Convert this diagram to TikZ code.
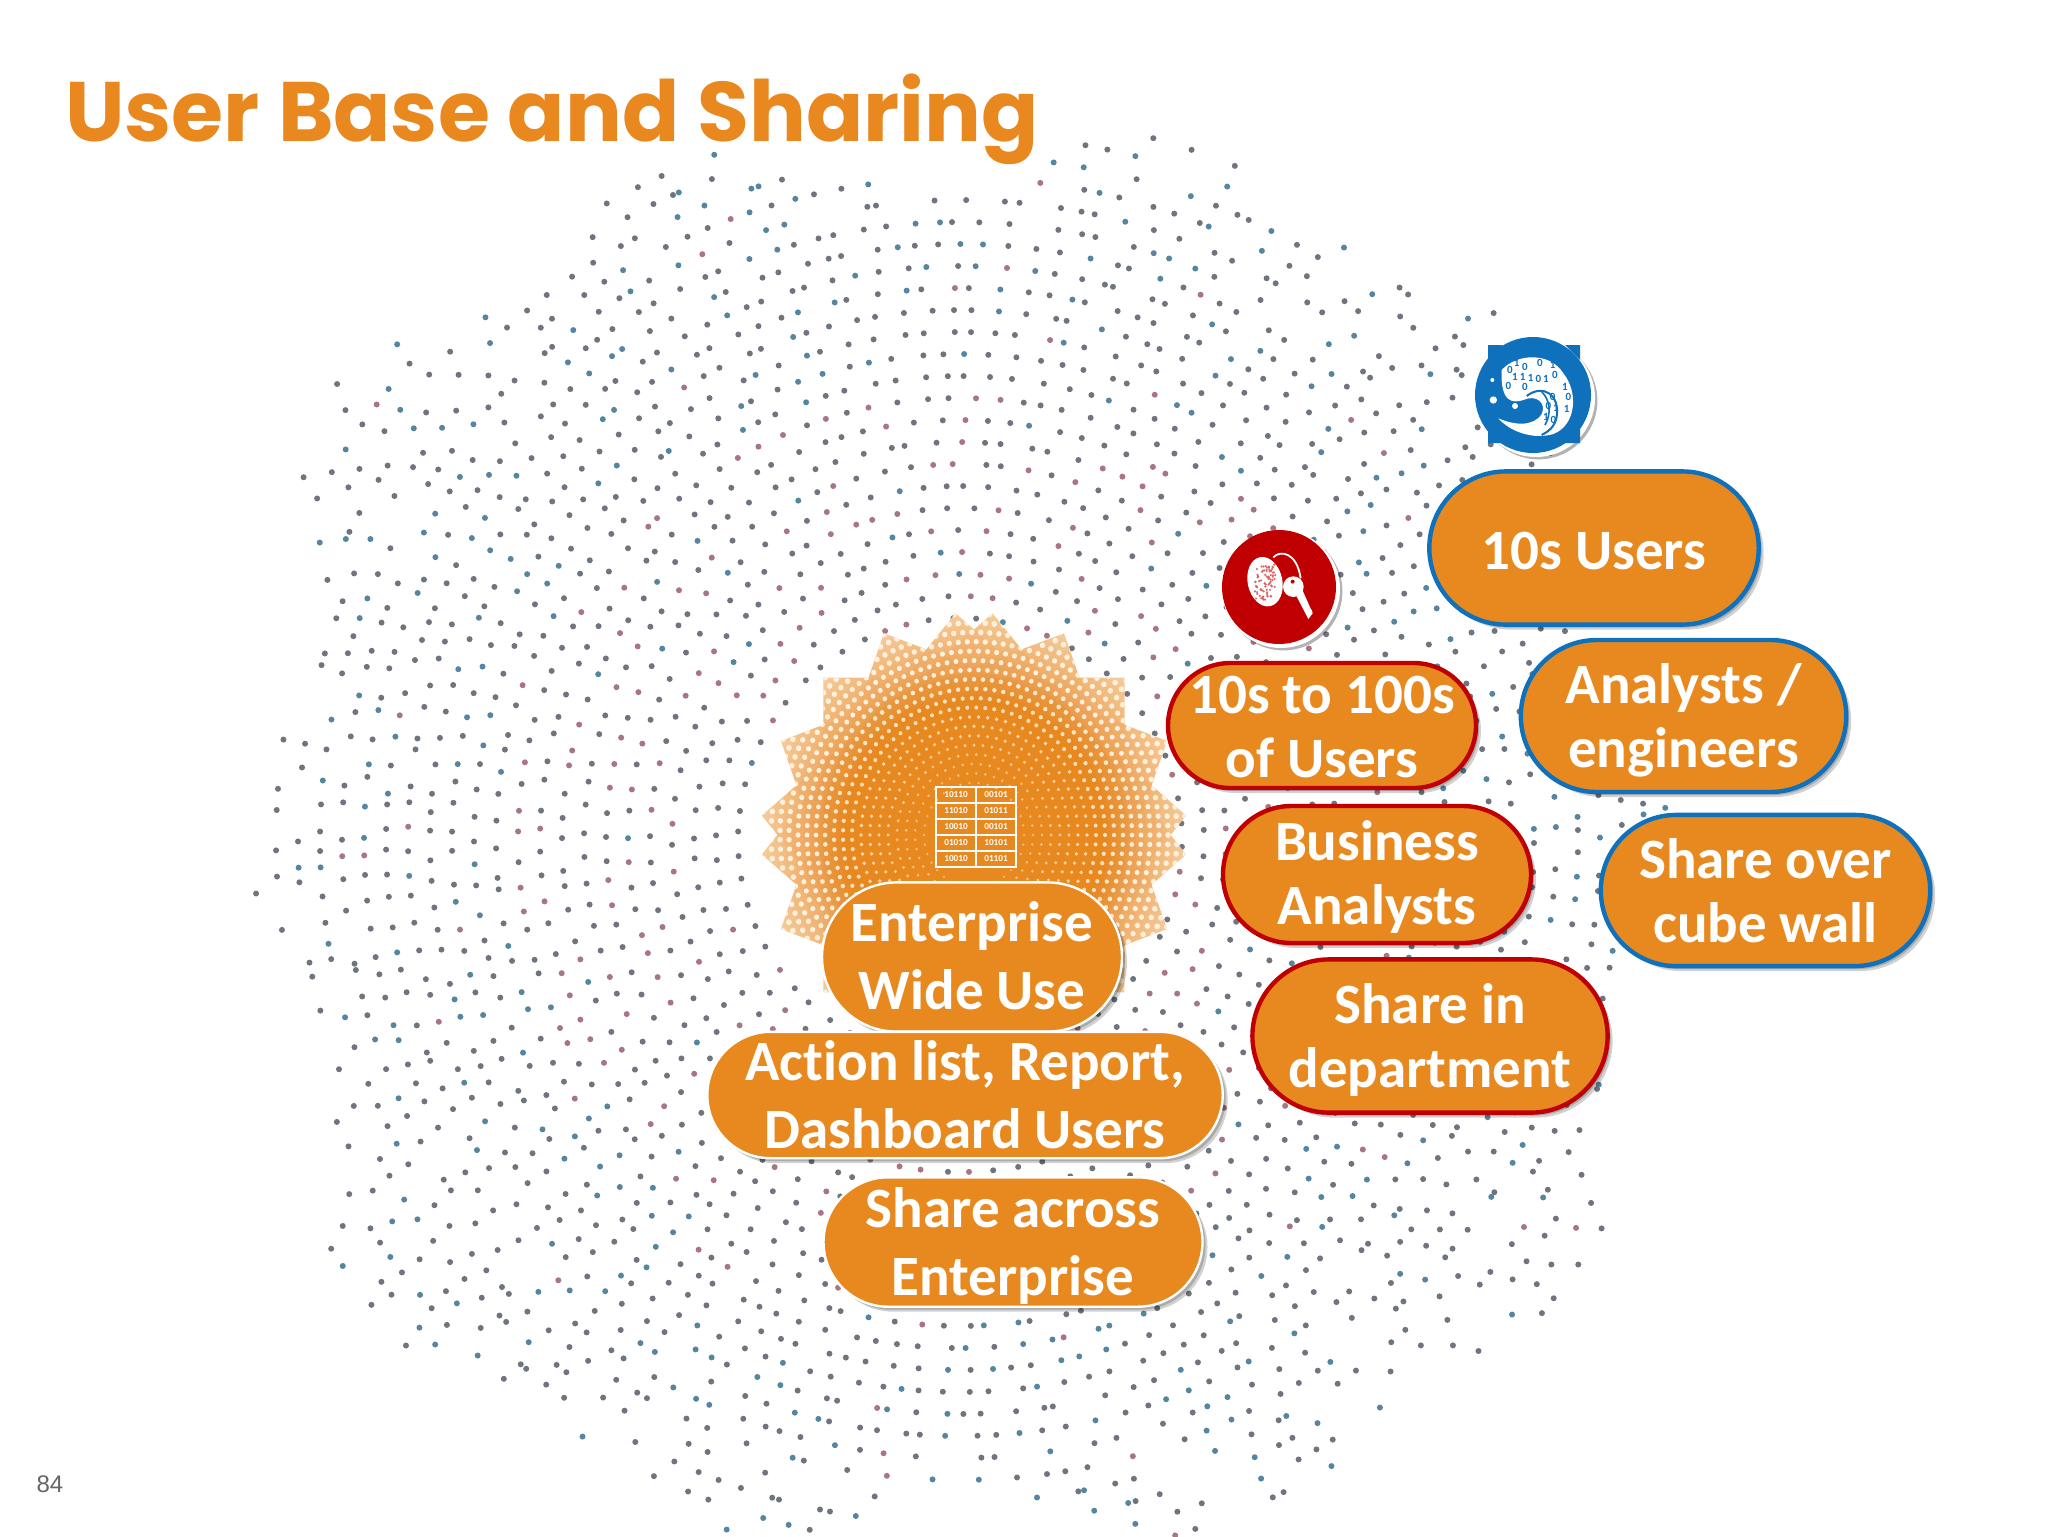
\documentclass[tikz,border=0pt]{standalone}
\usepackage{fontspec}
\setmainfont[Ligatures=NoCommon]{Carlito}
\newfontfamily\numfont{Liberation Sans}
\newfontfamily\headfont{Poppins}
\usetikzlibrary{shadows,shapes.geometric}
\definecolor{orangefill}{HTML}{E8891F}
\definecolor{titleorange}{HTML}{E8881E}
\definecolor{pillblue}{HTML}{0F70BC}
\definecolor{pillred}{HTML}{C00000}
\definecolor{dotgray}{HTML}{6E757E}
\definecolor{dotred}{HTML}{A87682}
\definecolor{dotblue}{HTML}{55859F}
\definecolor{sunlight}{HTML}{F6D2A8}
\definecolor{sunmid}{HTML}{EFA862}
\definecolor{sunedge}{HTML}{F2BC82}
\definecolor{suncream}{HTML}{FFF0DC}
\pgfdeclareradialshading{sunshade}{\pgfpointorigin}{color(0bp)=(orangefill);color(15bp)=(orangefill);color(18.5bp)=(sunmid);color(21.5bp)=(sunedge);color(25bp)=(sunlight);color(50bp)=(sunlight)}
\tikzset{
  pill/.style n args={2}{minimum width=#1pt,minimum height=#2pt,rounded corners={#2*0.5pt}},
  pillbase/.style={rectangle,fill=orangefill,text=white,inner sep=0pt,align=center,
    font=\fontsize{28.5}{32}\selectfont\bfseries,
    drop shadow={shadow xshift=1.5pt,shadow yshift=-1.5pt,opacity=.18,fill=black},
    drop shadow={shadow xshift=2.5pt,shadow yshift=-2.5pt,opacity=.18,fill=black}},
  bluepill/.style={pillbase,draw=pillblue,line width=2.2pt},
  redpill/.style={pillbase,draw=pillred,line width=2.2pt},
  whitepill/.style={pillbase,draw=white,line width=1.2pt},
  pilltext/.style={inner sep=0pt,text=white,align=center,font=\fontsize{28.5}{32}\selectfont\bfseries},
  widetext/.style={pilltext,font=\fontsize{28.5}{34}\selectfont\bfseries},
  icondisc/.style={circle,inner sep=0pt,fill=white,minimum size=59pt,
    drop shadow={shadow xshift=1.2pt,shadow yshift=-1.2pt,opacity=.3,fill=black}},
  bits/.style={inner sep=0pt,text=white,font=\fontsize{4.6}{5}\selectfont\bfseries},
  wavebit/.style={inner sep=0pt,text=pillblue,font=\fontsize{5.5}{5.5}\selectfont\bfseries},
  title/.style={inner sep=0pt,anchor=base west,text=titleorange},
}
\begin{document}
\begin{tikzpicture}[x=0.5pt,y=-0.5pt]
\useasboundingbox (0,0) rectangle (2048,1536);
\fill[white] (0,0) rectangle (2048,1536);
% ---- dot cloud ----
\pgfmathsetseed{4217}
\foreach \rr in {222,244,...,800}{
  \pgfmathtruncatemacro{\nn}{6.283*\rr/24}
  \pgfmathsetmacro{\off}{rnd*30}
  \pgfmathsetmacro{\keep}{\rr<530?1.05:1.05-(\rr-530)*0.0024}
  \pgfmathtruncatemacro{\isinner}{\rr<460?1:0}
  \foreach \kk in {1,...,\nn}{
    \pgfmathsetmacro{\tha}{\off+\kk/\nn*360+(rnd-.5)*1.8}
    \pgfmathsetmacro{\lmt}{650+75*abs(sin(2*\tha))+35*cos(10*\tha+20)+rnd*25}
    \pgfmathtruncatemacro{\vis}{(\rr<\lmt)&&(rnd<\keep)?1:0}
    \ifnum\vis=1
      \pgfmathsetmacro{\pick}{rnd}
      \ifnum\isinner=1
        \pgfmathtruncatemacro{\ci}{\pick<0.25?1:(\pick<0.3?2:0)}
      \else
        \pgfmathtruncatemacro{\ci}{\pick<0.24?2:(\pick<0.27?1:0)}
      \fi
      \ifcase\ci\def\cl{dotgray}\or\def\cl{dotred}\or\def\cl{dotblue}\fi
      \fill[\cl] ({960+\rr*cos(\tha)},{840+\rr*sin(\tha)}) circle[radius=3];
    \fi
  }
}
% ---- sun ----
\begin{scope}[shift={(974,835)},yscale=1.045]
  \begin{scope}
    \clip (45:213)--(135:213)--(225:213)--(315:213)--cycle
      (65:213)--(155:213)--(245:213)--(335:213)--cycle
      (25:213)--(115:213)--(205:213)--(295:213)--cycle
      (85:213)--(175:213)--(265:213)--(355:213)--cycle
      (5:213)--(95:213)--(185:213)--(275:213)--cycle;
    \shade[shading=sunshade] (0,0) circle[radius=214];
    \foreach \a in {0,20,-20,40,-40}{
      \fill[orangefill,opacity=.07] (45+\a:213)--(135+\a:213)--(225+\a:213)--(315+\a:213)--cycle;
    }
    \foreach \rr in {50,59,...,232}{
      \pgfmathtruncatemacro{\nn}{6.283*\rr/9}
      \pgfmathsetmacro{\dr}{0.7+\rr*0.0105}
      \pgfmathtruncatemacro{\tn}{min(100,30+\rr*0.42)}
      \foreach \kk in {1,...,\nn}{
        \fill[suncream!\tn!orangefill] ({\kk/\nn*360}:\rr) circle[radius=\dr];
      }
    }
  \end{scope}
\end{scope}
% ---- table icon ----
\draw[white,line width=1pt] (936,787) rectangle (1016,867);
\foreach \yy in {803,819,835,851}{\draw[white,line width=.9pt] (936,\yy)--(1016,\yy);}
\draw[white,line width=.9pt] (976,787)--(976,867);
\foreach \yy/\ta/\tb [count=\ii] in {795/10110/00101,811/11010/01011,827/10010/00101,843/01010/10101,859/10010/01101}{
  \node[bits] (tl\ii) at (956,\yy) {\ta};
  \node[bits] (tr\ii) at (996,\yy) {\tb};
}
% ---- pills ----
\node[bluepill,pill={164.7}{76.6}] (tens) at (1594,548) {};
\node[pilltext] (tensT) at ([yshift=-1.5pt]tens.center) {10s Users};
\node[bluepill,pill={162.7}{76}] (analysts) at (1683.5,716) {};
\node[pilltext] (analystsT) at ([yshift=-2pt]analysts.center) {Analysts /\\engineers};
\node[redpill,pill={154}{62.5}] (hundreds) at (1322,725.5) {};
\node[pilltext] (hundredsT) at ([yshift=-.7pt]hundreds.center) {10s to 100s\\of Users};
\node[redpill,pill={154}{68.5}] (business) at (1377,874.5) {};
\node[pilltext] (businessT) at ([yshift=-1.3pt]business.center) {Business\\Analysts};
\node[bluepill,pill={164.7}{75.6}] (cube) at (1765.5,890.5) {};
\node[pilltext] (cubeT) at (cube.center) {Share over\\cube wall};
\node[redpill,pill={177.6}{76.6}] (dept) at (1430,1036) {};
\node[pilltext] (deptT) at ([yshift=-2pt]dept.center) {Share in\\department};
\node[whitepill,pill={150}{74.6}] (wide) at (972,957) {};
\node[widetext] (wideT) at ([yshift=.6pt]wide.center) {Enterprise\\Wide Use};
\node[whitepill,pill={257.7}{63.2}] (action) at (965,1095) {};
\node[widetext] (actionT) at (action.center) {Action list, Report,\\Dashboard Users};
\node[whitepill,pill={189.5}{64.7}] (across) at (1013,1242) {};
\node[widetext] (acrossT) at ([yshift=-2pt]across.center) {Share across\\Enterprise};
% ---- blue icon ----
\node[icondisc] (wavedisc) at (1536,398) {};
\node[circle,fill=pillblue,inner sep=0pt,minimum size=58pt] (waveface) at (1533,395) {};
\fill[pillblue] (1488,345) -- (1503,345) -- (1488,360) -- cycle;
\fill[pillblue] (1580,345) -- (1565,345) -- (1580,360) -- cycle;
\fill[pillblue] (1488,443) -- (1503,443) -- (1488,428) -- cycle;
\fill[pillblue] (1580,443) -- (1565,443) -- (1580,428) -- cycle;
\begin{scope}[shift={(1180,320)},scale=1/3]
  \fill[white] (965,150) .. controls (1010,100) and (1110,95) .. (1150,160)
     .. controls (1195,215) and (1190,315) .. (1120,342)
     .. controls (1060,360) and (990,335) .. (955,295)
     .. controls (1000,315) and (1060,322) .. (1085,282)
     .. controls (1100,250) and (1070,222) .. (1030,240)
     .. controls (1000,250) and (960,250) .. (965,150) -- cycle;
  \draw[pillblue,line width=1pt] (1040,228) .. controls (1090,190) and (1140,225) .. (1130,290) .. controls (1125,320) and (1105,335) .. (1085,345);
  \draw[pillblue,line width=.8pt] (1085,215) .. controls (1110,240) and (1115,280) .. (1095,315);
  \fill[white] (940,240) circle[radius=11];
  \fill[white] (1005,258) circle[radius=9];
  \fill[white] (937,180) circle[radius=6];
  \foreach \px/\py/\bb [count=\ii] in {990/150/0,1010/128/1,1035/142/0,1080/128/0,1118/135/1,1005/172/1,1028/170/1,1052/175/1,1075/178/0,1098/176/1,1125/165/0,1155/200/1,985/198/0,1035/200/0,1118/232/0,1165/232/0,1105/258/0,1128/265/1,1098/290/1,1120/300/0,1160/268/1}{
    \node[wavebit] (wb\ii) at (\px,\py) {\bb};
  }
\end{scope}
% ---- red icon ----
\node[icondisc] (keydisc) at (1281,589) {};
\node[circle,fill=pillred,inner sep=0pt,minimum size=57pt] (keyface) at (1279,587) {};
\begin{scope}[shift={(1180,320)},scale=1/3]
  \draw[white,line width=.9pt] (280,712) .. controls (300,690) and (350,695) .. (362,775);
  \fill[white,rotate around={12:(255,785)}] (255,785) ellipse[x radius=52,y radius=75];
  \pgfmathsetseed{77}
  \foreach \ii in {1,...,80}{
    \fill[pillred!60!white] ({255+(rnd-.5)*62},{785+(rnd-.5)*110}) circle[radius=3.6];
  }
  \fill[white] (340,800) circle[radius=31];
  \fill[white] (345,820) -- (365,805) -- (398,880) -- (385,897) -- cycle;
  \fill[white] (375,850) circle[radius=9];
  \fill[white] (388,875) circle[radius=9];
  \fill[pillred] (338,785) circle[radius=6];
\end{scope}
% ---- title and page number ----
\node[title,font=\headfont\fontsize{42.2}{46}\selectfont\bfseries] (heading) at (65,141) {User Base and Sharing};
\node[inner sep=0pt,text=black!60,font=\numfont\fontsize{12}{12}\selectfont] (pageno) at (50,1484) {84};
\end{tikzpicture}
\end{document}
